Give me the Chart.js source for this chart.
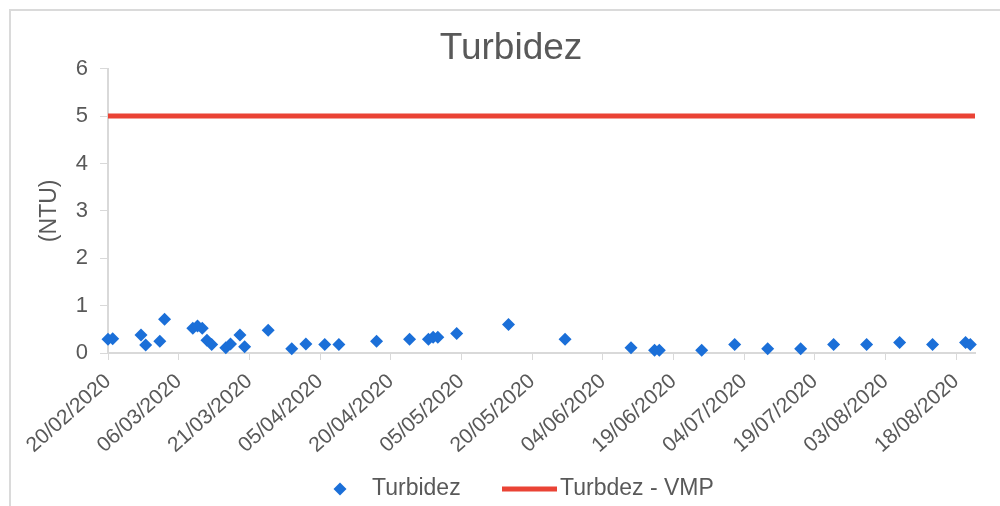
<!DOCTYPE html>
<html>
<head>
<meta charset="utf-8">
<script src="https://cdn.jsdelivr.net/npm/chart.js@4.4.1/dist/chart.umd.min.js"></script>
<style>
  html, body { margin: 0; padding: 0; background: #ffffff; }
  #wrap { position: relative; width: 1000px; height: 506px; overflow: hidden; }
  #frame { position: absolute; left: 9px; top: 9px; width: 1100px; height: 600px;
           border-left: 2px solid #dadada; border-top: 2px solid #dadada; }
  #c { position: absolute; left: 0; top: 0; }
</style>
</head>
<body>
<div id="wrap">
  <div id="frame"></div>
  <canvas id="c" width="1000" height="506"></canvas>
</div>
<script>
// ---- data ----
const sampleDates = ['20/02/2020','21/02/2020','27/02/2020','28/02/2020','02/03/2020','03/03/2020','09/03/2020','10/03/2020','11/03/2020','12/03/2020','13/03/2020','16/03/2020','17/03/2020','19/03/2020','20/03/2020','25/03/2020','30/03/2020','02/04/2020','06/04/2020','09/04/2020','17/04/2020','24/04/2020','28/04/2020','29/04/2020','30/04/2020','04/05/2020','15/05/2020','27/05/2020','10/06/2020','15/06/2020','16/06/2020','25/06/2020','02/07/2020','09/07/2020','16/07/2020','23/07/2020','30/07/2020','06/08/2020','13/08/2020','20/08/2020','21/08/2020'];
const turbidezValues = [0.29,0.3,0.38,0.17,0.25,0.71,0.52,0.57,0.52,0.27,0.18,0.11,0.19,0.38,0.13,0.48,0.09,0.19,0.18,0.18,0.25,0.29,0.29,0.33,0.33,0.41,0.6,0.29,0.11,0.06,0.06,0.06,0.18,0.09,0.09,0.18,0.18,0.22,0.18,0.22,0.18];
const vmpDates = ['20/02/2020','22/08/2020'];
const vmpValues = [5, 5];
const xTickLabels = ['20/02/2020','06/03/2020','21/03/2020','05/04/2020','20/04/2020','05/05/2020','20/05/2020','04/06/2020','19/06/2020','04/07/2020','19/07/2020','03/08/2020','18/08/2020'];
const yTicks = [0,1,2,3,4,5,6];
const seriesNames = ['Turbidez','Turbdez - VMP'];
const chartTitle = 'Turbidez';
const yAxisTitle = '(NTU)';

// ---- helpers ----
function toDay(s) {
  const p = s.split('/');
  return Date.UTC(+p[2], +p[1] - 1, +p[0]) / 86400000;
}
function fromDay(d) {
  const dt = new Date(Math.round(d) * 86400000);
  const dd = String(dt.getUTCDate()).padStart(2, '0');
  const mm = String(dt.getUTCMonth() + 1).padStart(2, '0');
  return dd + '/' + mm + '/' + dt.getUTCFullYear();
}

const BLUE = '#1b6fd8';
const RED = '#ea4335';
const TXT = '#595959';
const FONT = "'Liberation Sans', Arial, sans-serif";

const xMin = toDay(vmpDates[0]);
const xMax = toDay(vmpDates[vmpDates.length - 1]);

const legendPlugin = {
  id: 'customLegend',
  afterDraw(chart) {
    const ctx = chart.ctx;
    const y = 489;
    ctx.save();
    ctx.fillStyle = BLUE;
    ctx.beginPath();
    ctx.moveTo(340, y - 6.5); ctx.lineTo(346.5, y); ctx.lineTo(340, y + 6.5); ctx.lineTo(333.5, y);
    ctx.closePath(); ctx.fill();
    ctx.font = '23px ' + FONT;
    ctx.fillStyle = TXT;
    ctx.textBaseline = 'middle';
    ctx.textAlign = 'left';
    ctx.fillText(seriesNames[0], 372, y);
    ctx.strokeStyle = RED;
    ctx.lineWidth = 5;
    ctx.beginPath(); ctx.moveTo(502, y); ctx.lineTo(557, y); ctx.stroke();
    ctx.fillText(seriesNames[1], 560, y);
    ctx.restore();
  }
};

new Chart(document.getElementById('c'), {
  type: 'scatter',
  data: {
    datasets: [
      {
        label: seriesNames[0],
        data: sampleDates.map((d, i) => ({ x: toDay(d), y: turbidezValues[i] })),
        pointStyle: 'rectRot',
        pointRadius: 6.5,
        pointHoverRadius: 6.5,
        backgroundColor: BLUE,
        borderColor: BLUE,
        borderWidth: 0,
        clip: false,
        order: 1
      },
      {
        label: seriesNames[1],
        data: vmpDates.map((d, i) => ({ x: toDay(d), y: vmpValues[i] })),
        showLine: true,
        borderColor: RED,
        backgroundColor: RED,
        borderWidth: 5,
        pointRadius: 0,
        pointHoverRadius: 0,
        order: 2
      }
    ]
  },
  options: {
    responsive: false,
    animation: false,
    events: [],
    layout: { padding: { left: 47, right: 25, top: 0, bottom: 38 } },
    plugins: {
      legend: { display: false },
      tooltip: { enabled: false },
      title: {
        display: true,
        text: chartTitle,
        color: TXT,
        font: { family: FONT, size: 37, weight: 'normal', lineHeight: 1.1 },
        padding: { top: 28, bottom: 0 }
      }
    },
    scales: {
      x: {
        type: 'linear',
        min: xMin,
        max: xMax,
        afterBuildTicks(scale) {
          scale.ticks = xTickLabels.map(l => ({ value: toDay(l) }));
        },
        afterFit(scale) { scale.height = 115; },
        ticks: {
          autoSkip: false,
          minRotation: 42,
          maxRotation: 42,
          padding: 9,
          color: TXT,
          font: { family: FONT, size: 21 },
          callback: (v) => fromDay(v)
        },
        grid: { drawOnChartArea: false, drawTicks: true, tickLength: 7, color: '#d9d9d9', lineWidth: 1 },
        border: { display: true, color: '#d9d9d9', width: 2 }
      },
      y: {
        type: 'linear',
        min: yTicks[0],
        max: yTicks[yTicks.length - 1],
        afterBuildTicks(scale) {
          scale.ticks = yTicks.map(v => ({ value: v }));
        },
        afterFit(scale) { scale.width = 61; },
        ticks: {
          padding: 12,
          color: TXT,
          font: { family: FONT, size: 22 }
        },
        title: {
          display: true,
          text: yAxisTitle,
          color: TXT,
          font: { family: FONT, size: 23 },
          padding: { top: -11, bottom: 0 }
        },
        grid: { drawOnChartArea: false, drawTicks: true, tickLength: 8, color: '#d9d9d9', lineWidth: 1 },
        border: { display: true, color: '#d9d9d9', width: 2 }
      }
    }
  },
  plugins: [legendPlugin]
});
</script>
</body>
</html>
